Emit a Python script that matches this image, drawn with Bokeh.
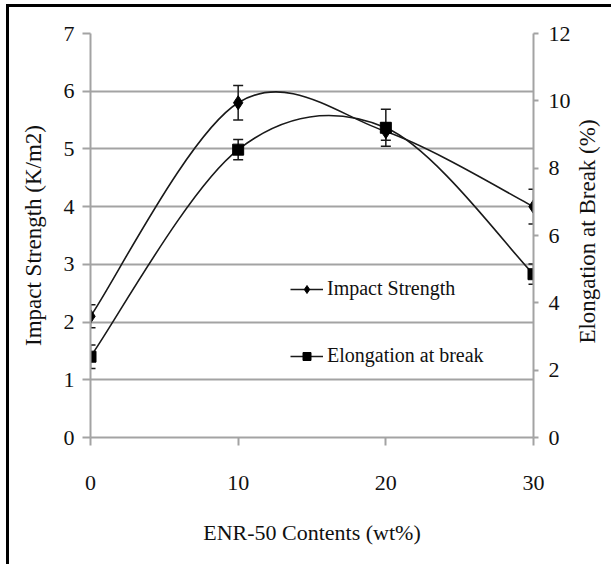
import math
from bokeh.plotting import figure
from bokeh.layouts import row
from bokeh.models import (Range1d, LinearAxis, Whisker, ColumnDataSource, Legend,
                          LegendItem, FixedTicker, TeeHead, Label)
from bokeh.embed import file_html
from bokeh.resources import INLINE

# ---- data ----
x_vals = [0, 10, 20, 30]
impact = [2.1, 5.8, 5.3, 4.0]
impact_err = [0.2, 0.3, 0.15, 0.3]
elong = [2.4, 8.55, 9.2, 4.85]
elong_err = [0.35, 0.3, 0.55, 0.3]
left_ticks = [0, 1, 2, 3, 4, 5, 6, 7]
right_ticks = [0, 2, 4, 6, 8, 10, 12]
x_ticks = [0, 10, 20, 30]

FONT = "Liberation Serif"
GRID = "#a3a3a3"
INK = "#1a1a1a"


def smooth_segments(xs, ys):
    """Catmull-Rom style smoothing expressed as cubic Bezier segments."""
    n = len(xs)
    d = dict(x0=[], y0=[], x1=[], y1=[], cx0=[], cy0=[], cx1=[], cy1=[])
    for i in range(n - 1):
        a = max(i - 1, 0)
        b = min(i + 2, n - 1)
        d["x0"].append(xs[i]); d["y0"].append(ys[i])
        d["x1"].append(xs[i + 1]); d["y1"].append(ys[i + 1])
        d["cx0"].append(xs[i] + (xs[i + 1] - xs[a]) / 6.0)
        d["cy0"].append(ys[i] + (ys[i + 1] - ys[a]) / 6.0)
        d["cx1"].append(xs[i + 1] - (xs[b] - xs[i]) / 6.0)
        d["cy1"].append(ys[i + 1] - (ys[b] - ys[i]) / 6.0)
    return ColumnDataSource(d)


p = figure(frame_width=443, frame_height=404,
           min_border_left=90, min_border_right=40,
           min_border_top=33, min_border_bottom=127,
           x_range=Range1d(0, 30), y_range=Range1d(0, 7),
           output_backend="svg", toolbar_location=None,
           x_axis_label="ENR-50 Contents (wt%)",
           y_axis_label="Impact Strength (K/m2)")
p.extra_y_ranges = {"el": Range1d(0, 12)}

p.background_fill_color = None
p.border_fill_color = None
p.outline_line_color = None
p.styles = {
    "background-color": "white",
    "background-image": "linear-gradient(#000,#000), linear-gradient(#000,#000)",
    "background-size": "3px 100%, 100% 3px",
    "background-position": "6px 4px, 6px 4px",
    "background-repeat": "no-repeat",
}

ax_r = LinearAxis(y_range_name="el", ticker=FixedTicker(ticks=right_ticks))
p.add_layout(ax_r, "right")

p.xaxis.ticker = FixedTicker(ticks=x_ticks)
p.yaxis[0].ticker = FixedTicker(ticks=left_ticks)

for ax in [p.xaxis[0], p.yaxis[0], ax_r]:
    ax.axis_line_color = GRID
    ax.axis_line_width = 2
    ax.major_tick_line_color = GRID
    ax.major_tick_line_width = 2
    ax.major_tick_in = 0
    ax.minor_tick_in = 0
    ax.minor_tick_out = 0
    ax.major_label_text_font = FONT
    ax.major_label_text_font_size = "22px"
    ax.major_label_text_color = "#111111"
    ax.axis_label_text_font = FONT
    ax.axis_label_text_font_style = "normal"
    ax.axis_label_text_font_size = "22px"
    ax.axis_label_text_color = "#111111"

p.yaxis[0].axis_label_text_font_size = "23px"
p.xaxis[0].major_tick_out = 8
p.xaxis[0].major_label_standoff = 30
p.xaxis[0].axis_label_standoff = 27
p.yaxis[0].major_tick_out = 8
p.yaxis[0].major_label_standoff = 8
p.yaxis[0].axis_label_standoff = 15
ax_r.major_tick_out = 5
ax_r.major_label_standoff = 10

p.xgrid.visible = False
p.ygrid.ticker = FixedTicker(ticks=left_ticks)
p.ygrid.grid_line_color = GRID
p.ygrid.grid_line_width = 2

# ---- curves ----
seg_i = smooth_segments(x_vals, impact)
seg_e = smooth_segments(x_vals, elong)
b_i = p.bezier(x0="x0", y0="y0", x1="x1", y1="y1", cx0="cx0", cy0="cy0",
               cx1="cx1", cy1="cy1", source=seg_i, line_color=INK, line_width=1.6)
b_e = p.bezier(x0="x0", y0="y0", x1="x1", y1="y1", cx0="cx0", cy0="cy0",
               cx1="cx1", cy1="cy1", source=seg_e, line_color=INK, line_width=1.6,
               y_range_name="el")

# ---- error bars ----
src_i = ColumnDataSource(dict(x=x_vals, y=impact,
                              lo=[v - e for v, e in zip(impact, impact_err)],
                              hi=[v + e for v, e in zip(impact, impact_err)]))
src_e = ColumnDataSource(dict(x=x_vals, y=elong,
                              lo=[v - e for v, e in zip(elong, elong_err)],
                              hi=[v + e for v, e in zip(elong, elong_err)]))
for src, rn in [(src_i, "default"), (src_e, "el")]:
    w = Whisker(source=src, base="x", upper="hi", lower="lo",
                line_color=INK, line_width=1.5, y_range_name=rn,
                upper_head=TeeHead(size=10, line_color=INK, line_width=1.5),
                lower_head=TeeHead(size=10, line_color=INK, line_width=1.5))
    p.add_layout(w)

# ---- markers ----
s_i = p.scatter("x", "y", source=src_i, marker="diamond", size=14,
                fill_color="black", line_color="black")
s_e = p.scatter("x", "y", source=src_e, marker="square", size=11,
                fill_color="black", line_color="black", y_range_name="el")

legend = Legend(items=[LegendItem(label="Impact Strength", renderers=[b_i, s_i]),
                       LegendItem(label="Elongation at break", renderers=[b_e, s_e])],
                location=(200, 70), orientation="vertical", padding=0, margin=0,
                spacing=44, glyph_width=33, glyph_height=20, label_height=20,
                label_standoff=4, border_line_color=None, background_fill_alpha=0,
                label_text_font=FONT, label_text_font_size="20px",
                label_text_color="#111111")
p.add_layout(legend)

# ---- narrow strip holding the right-hand axis title (reads bottom-to-top) ----
# (its frame is aligned with the main frame by the row layout)
p2 = figure(width=38, height=564, x_range=Range1d(0, 1), y_range=Range1d(0, 1),
            x_axis_type=None, y_axis_type=None, output_backend="svg",
            toolbar_location=None, min_border=0)
p2.grid.visible = False
p2.outline_line_color = None
p2.background_fill_color = None
p2.border_fill_color = None
p2.styles = {
    "background-color": "white",
    "background-image": "linear-gradient(#000,#000)",
    "background-size": "100% 3px",
    "background-position": "0px 4px",
    "background-repeat": "no-repeat",
}
p2.add_layout(Label(x=14, y=206, x_units="screen", y_units="screen",
                    text="Elongation at Break (%)", angle=math.pi / 2,
                    text_align="center", text_baseline="middle",
                    text_font=FONT, text_font_size="23px", text_color="#111111"))

layout = row(p, p2, spacing=0)
open("out.html", "w").write(file_html(layout, INLINE))
